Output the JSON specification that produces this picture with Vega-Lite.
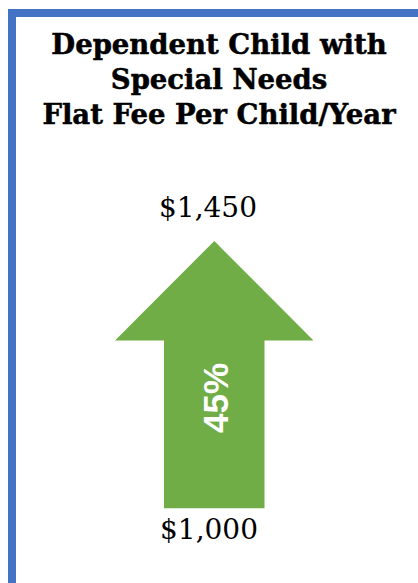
{
  "$schema": "https://vega.github.io/schema/vega-lite/v6.json",
  "width": 418,
  "height": 583,
  "autosize": {"type": "fit", "contains": "padding"},
  "padding": 0,
  "background": "white",
  "config": {"view": {"stroke": null}},
  "datasets": {
    "frame": [{"x": 12, "x2": 440, "y": 13, "y2": 620}],
    "head": [
      {"x": 115, "top": 340.5, "base": 340.5},
      {"x": 214.3, "top": 241, "base": 340.5},
      {"x": 313.5, "top": 340.5, "base": 340.5}
    ],
    "shaft": [{"x": 164, "x2": 264.5, "y": 340, "y2": 508.3}],
    "prices": [
      {"label": "$1,450", "x": 208, "y": 217},
      {"label": "$1,000", "x": 209, "y": 539}
    ],
    "title": [
      {"t": "Dependent Child with", "x": 219, "y": 54},
      {"t": "Special Needs", "x": 219, "y": 89},
      {"t": "Flat Fee Per Child/Year", "x": 219, "y": 124}
    ]
  },
  "encoding": {
    "x": {"type": "quantitative", "scale": {"domain": [0, 418], "nice": false, "zero": false}, "axis": null},
    "y": {"type": "quantitative", "scale": {"domain": [0, 583], "nice": false, "zero": false, "reverse": true}, "axis": null}
  },
  "layer": [
    {
      "data": {"name": "frame"},
      "mark": {"type": "rect", "fill": null, "stroke": "#4472C4", "strokeWidth": 8, "clip": true},
      "encoding": {
        "x": {"field": "x", "type": "quantitative"},
        "x2": {"field": "x2"},
        "y": {"field": "y", "type": "quantitative"},
        "y2": {"field": "y2"}
      }
    },
    {
      "data": {"name": "head"},
      "mark": {"type": "area", "color": "#70AD47", "orient": "vertical"},
      "encoding": {
        "x": {"field": "x", "type": "quantitative"},
        "y": {"field": "top", "type": "quantitative"},
        "y2": {"field": "base"}
      }
    },
    {
      "data": {"name": "shaft"},
      "mark": {"type": "rect", "color": "#70AD47"},
      "encoding": {
        "x": {"field": "x", "type": "quantitative"},
        "x2": {"field": "x2"},
        "y": {"field": "y", "type": "quantitative"},
        "y2": {"field": "y2"}
      }
    },
    {
      "data": {"name": "prices"},
      "mark": {"type": "text", "font": "DejaVu Serif", "fontSize": 28, "color": "black", "align": "center", "baseline": "alphabetic"},
      "encoding": {
        "x": {"field": "x", "type": "quantitative"},
        "y": {"field": "y", "type": "quantitative"},
        "text": {"field": "label"}
      }
    },
    {
      "data": {"values": [{"t": "45%"}]},
      "mark": {"type": "text", "font": "Liberation Sans", "fontWeight": "bold", "fontSize": 35, "color": "white", "angle": 270, "align": "center", "baseline": "middle"},
      "encoding": {
        "x": {"datum": 217},
        "y": {"datum": 398},
        "text": {"field": "t"}
      }
    },
    {
      "data": {"name": "title"},
      "mark": {"type": "text", "font": "DejaVu Serif", "fontWeight": "bold", "fontSize": 27.5, "fill": "black", "stroke": "black", "strokeWidth": 0.5, "align": "center", "baseline": "alphabetic"},
      "encoding": {
        "x": {"field": "x", "type": "quantitative"},
        "y": {"field": "y", "type": "quantitative"},
        "text": {"field": "t"}
      }
    }
  ]
}
